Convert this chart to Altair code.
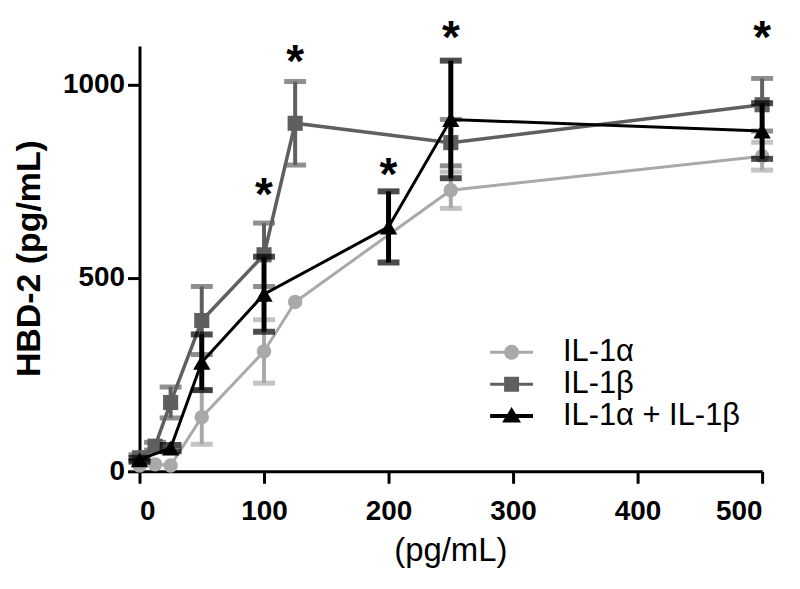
import altair as alt
import pandas as pd

series = ["IL-1α", "IL-1β", "IL-1α + IL-1β"]
colors = ["#a9a9a9", "#5f5f5f", "#000000"]
shapes = ["circle", "square", "triangle-up"]

a_dose = [0, 12.5, 25, 50, 100, 125, 250, 500]
a_mean = [15, 18, 15, 140, 310, 438, 727, 815]
a_err = [0, 0, 0, 70, 82, 0, 47, 36]

b_dose = [0, 12.5, 25, 50, 100, 125, 250, 500]
b_mean = [35, 65, 178, 390, 560, 900, 850, 948]
b_err = [8, 10, 40, 88, 82, 108, 60, 68]

c_dose = [0, 25, 50, 100, 200, 250, 500]
c_mean = [30, 60, 282, 458, 632, 910, 880]
c_err = [5, 8, 72, 97, 92, 152, 72]

star_dose = [100, 125, 200, 250, 500]
star_y = [745, 1088, 796, 1152, 1152]

x_ticks = [0, 100, 200, 300, 400, 500]
y_ticks = [0, 500, 1000]

FONT = "Liberation Sans"

def frame(name, dose, mean, err):
    return pd.DataFrame({
        "series": name,
        "dose": dose,
        "mean": mean,
        "err": err,
        "lo": [m - e for m, e in zip(mean, err)],
        "hi": [m + e for m, e in zip(mean, err)],
    })

frames = [frame(series[0], a_dose, a_mean, a_err),
          frame(series[1], b_dose, b_mean, b_err),
          frame(series[2], c_dose, c_mean, c_err)]

x_scale = alt.Scale(domain=[0, 500], nice=False, zero=False)
y_scale = alt.Scale(domain=[0, 1100], nice=False)

x_axis = alt.Axis(values=x_ticks, grid=False, domainWidth=3, domainColor="black",
                  tickWidth=3, tickSize=12, tickColor="black", format="d",
                  labelFont=FONT, labelFontSize=28, labelFontWeight="bold",
                  labelColor="black", labelPadding=14,
                  title="(pg/mL)", titleFont=FONT, titleFontSize=33,
                  titleFontWeight="normal", titleColor="black",
                  titleX=312, titleY=80, titleBaseline="middle",
                  titleAnchor="middle")
y_axis = alt.Axis(values=y_ticks, grid=False, domainWidth=3, domainColor="black",
                  tickWidth=3, tickSize=12, tickColor="black", format="d",
                  labelFont=FONT, labelFontSize=28, labelFontWeight="bold",
                  labelColor="black", labelPadding=3,
                  title="HBD-2 (pg/mL)", titleFont=FONT, titleFontSize=34,
                  titleFontWeight="bold", titleColor="black",
                  titleX=-110, titleY=213, titleAngle=270,
                  titleAlign="center", titleBaseline="middle")

line_w = [3, 3.5, 3]
bar_w = [4, 4, 5]
pt_size = [210, 230, 300]

layers = []
first = True
for i, df in enumerate(frames):
    base = alt.Chart(df)
    ebase = alt.Chart(df[df["err"] > 0])
    if first:
        xenc = alt.X("dose:Q", scale=x_scale, axis=x_axis)
        yenc = alt.Y("mean:Q", scale=y_scale, axis=y_axis)
        first = False
    else:
        xenc = alt.X("dose:Q", scale=x_scale)
        yenc = alt.Y("mean:Q", scale=y_scale)
    line = base.mark_line(color=colors[i], strokeWidth=line_w[i]).encode(x=xenc, y=yenc)
    rule = ebase.mark_rule(color=colors[i], strokeWidth=bar_w[i]).encode(
        x="dose:Q", y="lo:Q", y2="hi:Q")
    cap_hi = ebase.mark_tick(color=colors[i], orient="horizontal", size=22,
                             thickness=bar_w[i] + 1).encode(x="dose:Q", y="hi:Q")
    cap_lo = ebase.mark_tick(color=colors[i], orient="horizontal", size=22,
                             thickness=bar_w[i] + 1).encode(x="dose:Q", y="lo:Q")
    pts = base.mark_point(color=colors[i], filled=True, opacity=1, shape=shapes[i],
                          size=pt_size[i]).encode(x="dose:Q", y="mean:Q")
    layers += [line, rule, cap_hi, cap_lo, pts]

stars_df = pd.DataFrame({"dose": star_dose, "y": star_y})
stars = alt.Chart(stars_df).mark_text(text="*", font=FONT, fontSize=46,
                                      fontWeight="bold", color="black",
                                      baseline="middle", dy=13).encode(
    x="dose:Q", y="y:Q")
layers.append(stars)

# legend-only layer (line + marker symbols)
leg_paths = [
    "M-4.3,-0.3H4.3V0.3H-4.3Z M1.5,0A1.5,1.5,0,1,1,-1.5,0A1.5,1.5,0,1,1,1.5,0Z",
    "M-4.3,-0.3H4.3V0.3H-4.3Z M-1.5,-1.5H1.5V1.5H-1.5Z",
    "M-4.3,-0.4H4.3V0.4H-4.3Z M0,-1.8L1.9,1.3H-1.9Z",
]
leg = alt.Legend(title=None, orient="none", legendX=358, legendY=292,
                 symbolSize=100, symbolStrokeWidth=0, labelFont=FONT,
                 labelFontSize=31, labelColor="black", labelOffset=36,
                 labelLimit=500, rowPadding=0, padding=0, symbolOpacity=1)
leg_df = pd.DataFrame({"series": series})
legend_layer = alt.Chart(leg_df).mark_point(filled=True).encode(
    color=alt.Color("series:N", scale=alt.Scale(domain=series, range=colors), legend=leg),
    shape=alt.Shape("series:N", scale=alt.Scale(domain=series, range=leg_paths), legend=leg),
).transform_filter("false")
layers.append(legend_layer)

chart = alt.layer(*layers).properties(
    width=625, height=427,
    background="white",
    autosize=alt.AutoSizeParams(type="none"),
    padding={"left": 132, "top": 37, "right": 30, "bottom": 110},
).configure_view(strokeWidth=0, stroke=None)

chart.save("out.html", embed_options={"renderer": "svg", "actions": False})
